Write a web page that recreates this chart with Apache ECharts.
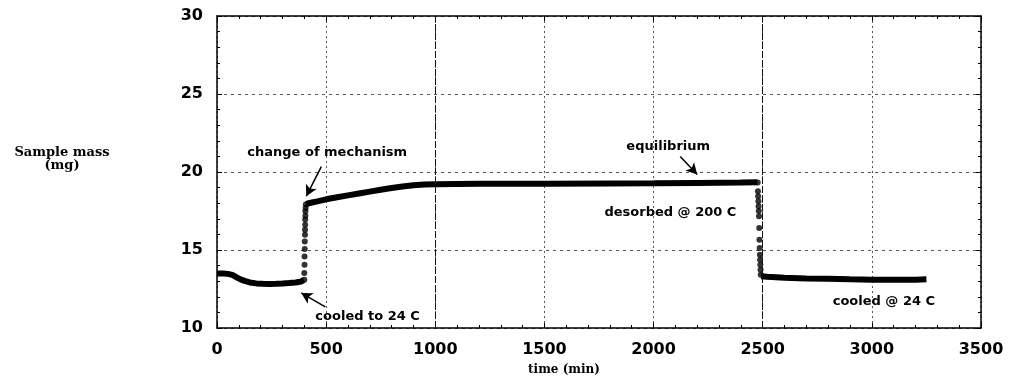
<!DOCTYPE html>
<html><head><meta charset="utf-8">
<script src="https://cdn.jsdelivr.net/npm/echarts@6/dist/echarts.min.js"></script>
<style>html,body{margin:0;padding:0;background:#fff}#c{width:1009px;height:382px}</style>
</head><body><div id="c"></div>
<script>
// Before the step (min, mg)
const timeA = [0, 30, 50, 70, 90, 110, 130, 150, 180, 210, 240, 270, 300, 330, 360, 385, 398];
const massA = [13.5, 13.5, 13.47, 13.4, 13.25, 13.1, 13.0, 12.92, 12.86, 12.83, 12.82, 12.83, 12.85, 12.88, 12.92, 12.98, 13.08];
// Fast rise dots
const timeB = [400, 400, 401, 401, 402, 402, 403, 403, 404, 404, 405, 405, 406, 407];
const massB = [13.09, 13.52, 14.05, 14.59, 15.07, 15.55, 15.98, 16.3, 16.62, 16.95, 17.2, 17.48, 17.7, 17.91];
// Slow rise and equilibrium
const timeC = [408, 430, 460, 500, 550, 600, 650, 700, 750, 800, 850, 900, 950, 1000, 1200, 1500, 1800, 2000, 2200, 2400, 2475];
const massC = [17.95, 18.03, 18.12, 18.25, 18.38, 18.5, 18.62, 18.74, 18.86, 18.97, 19.07, 19.15, 19.2, 19.22, 19.24, 19.25, 19.27, 19.28, 19.3, 19.32, 19.35];
// Desorption drop dots
const timeD = [2477, 2478, 2479, 2480, 2481, 2482, 2483, 2484, 2485, 2486, 2487, 2488, 2489, 2490, 2491];
const massD = [19.32, 18.77, 18.45, 18.13, 17.8, 17.5, 17.16, 16.41, 15.66, 15.13, 14.69, 14.37, 14.05, 13.73, 13.41];
// Cooled plateau
const timeE = [2493, 2520, 2560, 2600, 2700, 2800, 2900, 3000, 3100, 3200, 3250];
const massE = [13.32, 13.28, 13.25, 13.22, 13.18, 13.15, 13.12, 13.1, 13.1, 13.1, 13.12];

const xTicks = [0, 500, 1000, 1500, 2000, 2500, 3000, 3500];
const yTicks = [10, 15, 20, 25, 30];

const annotations = [
  {text: 'change of mechanism', t: 505, v: 21.25, align: 'center'},
  {text: 'cooled to 24 C', t: 690, v: 10.72, align: 'center'},
  {text: 'equilibrium', t: 2067, v: 21.64, align: 'center'},
  {text: 'desorbed @ 200 C', t: 1775, v: 17.4, align: 'left'},
  {text: 'cooled @ 24 C', t: 3055, v: 11.67, align: 'center'}
];
const arrows = [
  [[478, 20.35], [409, 18.45]],
  [[496, 11.35], [386, 12.25]],
  [[2122, 21.0], [2200, 19.84]]
];

const zip = (a, b) => a.map((x, i) => [x, b[i]]);
const chart = echarts.init(document.getElementById('c'), null, {renderer: 'canvas'});
const tickFont = {fontFamily: 'DejaVu Sans', fontWeight: 'bold', fontSize: 16, color: '#000'};
const thick = {color: '#000', width: 6};
const plain = v => String(v);
const option = {
  animation: false,
  backgroundColor: '#fff',
  grid: {left: 217, right: 28, top: 16, bottom: 54, containLabel: false},
  xAxis: [{
    type: 'value', min: xTicks[0], max: xTicks[xTicks.length - 1], interval: 500, position: 'bottom',
    axisLine: {show: true, onZero: false, lineStyle: {color: '#000', width: 1.5}},
    axisTick: {show: true, inside: true, length: 5, lineStyle: {color: '#000'}},
    minorTick: {show: true, splitNumber: 5, length: 3, lineStyle: {color: '#000'}},
    axisLabel: Object.assign({margin: 14, formatter: plain}, tickFont),
    splitLine: {show: true, lineStyle: {color: '#555', width: 1, type: [2, 3]}}
  }, {
    type: 'value', min: 0, max: 3500, interval: 500, position: 'top',
    axisLine: {show: true, onZero: false, lineStyle: {color: '#000', width: 1.5}},
    axisTick: {show: true, inside: true, length: 5, lineStyle: {color: '#000'}},
    minorTick: {show: true, splitNumber: 5, length: 3, lineStyle: {color: '#000'}},
    axisLabel: {show: false}, splitLine: {show: false}
  }],
  yAxis: [{
    type: 'value', min: yTicks[0], max: yTicks[yTicks.length - 1], interval: 5, position: 'left',
    axisLine: {show: true, onZero: false, lineStyle: {color: '#000', width: 1.5}},
    axisTick: {show: true, inside: true, length: 5, lineStyle: {color: '#000'}},
    minorTick: {show: true, splitNumber: 5, length: 3, lineStyle: {color: '#000'}},
    axisLabel: Object.assign({margin: 14, formatter: plain}, tickFont),
    splitLine: {show: true, lineStyle: {color: '#555', width: 1, type: [3, 4]}}
  }, {
    type: 'value', min: 10, max: 30, interval: 5, position: 'right',
    axisLine: {show: true, onZero: false, lineStyle: {color: '#000', width: 1.5}},
    axisTick: {show: true, inside: true, length: 5, lineStyle: {color: '#000'}},
    minorTick: {show: true, splitNumber: 5, length: 3, lineStyle: {color: '#000'}},
    axisLabel: {show: false}, splitLine: {show: false}
  }],
  series: [
    {type: 'line', data: zip(timeA, massA), showSymbol: false, lineStyle: thick, smooth: false,
     markLine: {silent: true, symbol: ['none', 'none'], label: {show: false},
       lineStyle: {color: '#111', width: 1, type: [7, 2]},
       data: [{xAxis: 1000}, {xAxis: 2500}]}},
    {type: 'scatter', data: zip(timeB, massB), symbol: 'circle', symbolSize: 6, itemStyle: {color: '#000'}},
    {type: 'line', data: zip(timeC, massC), showSymbol: false, lineStyle: thick,
     markLine: {silent: true, symbol: ['none', 'arrow'], symbolSize: [9, 11], label: {show: false},
       lineStyle: {color: '#000', width: 1.5, type: 'solid'},
       data: arrows.map(a => [{coord: a[0]}, {coord: a[1]}])}},
    {type: 'scatter', data: zip(timeD, massD), symbol: 'circle', symbolSize: 6, itemStyle: {color: '#000'}},
    {type: 'line', data: zip(timeE, massE), showSymbol: false, lineStyle: thick}
  ]
};
chart.setOption(option);

const g = [{
  type: 'text', x: 62, y: 159,
  style: {text: 'Sample mass\n(mg)', fill: '#000', font: 'bold 13px "DejaVu Serif"', lineHeight: 13, align: 'center', verticalAlign: 'middle'}
}, {
  type: 'text', x: 564, y: 370,
  style: {text: 'time (min)', fill: '#000', font: 'bold 12px "DejaVu Serif"', align: 'center', verticalAlign: 'middle'}
}];
annotations.forEach(a => {
  const p = chart.convertToPixel({gridIndex: 0}, [a.t, a.v]);
  g.push({type: 'text', x: p[0], y: p[1],
    style: {text: a.text, fill: '#000', font: 'bold 13px "DejaVu Sans"', align: a.align, verticalAlign: 'middle'}});
});
chart.setOption({graphic: g});
</script>
</body></html>
